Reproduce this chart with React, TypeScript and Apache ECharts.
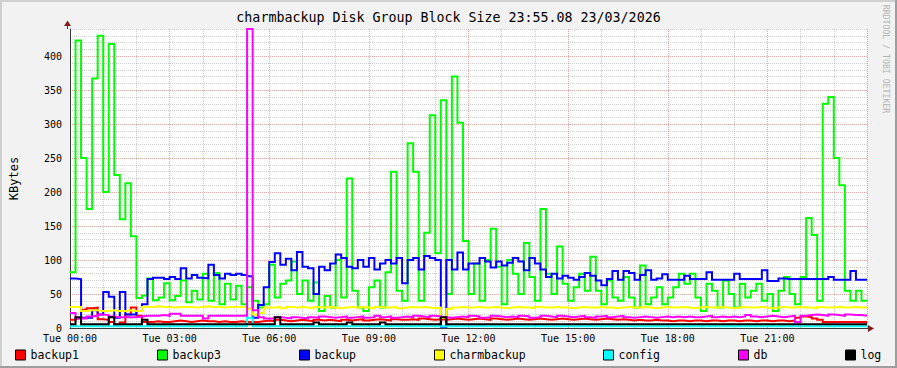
import React, { useEffect, useRef } from 'react';
import * as echarts from 'echarts';

const TITLE = 'charmbackup Disk Group Block Size 23:55.08 23/03/2026';
const Y_TITLE = 'KBytes';
const WATERMARK = 'RRDTOOL / TOBI OETIKER';

const SERIES_NAMES = ['backup1', 'backup3', 'backup', 'charmbackup', 'config', 'db', 'log'];
const SERIES_COLORS = ['#ff0000', '#00ff00', '#0000ff', '#ffff00', '#00ffff', '#ff00ff', '#000000'];
const LEGEND_X = [15, 157, 299, 434, 603, 738, 845];

const X_LABEL_HOURS = [0, 3, 6, 9, 12, 15, 18, 21];
const X_LABELS = ['Tue 00:00', 'Tue 03:00', 'Tue 06:00', 'Tue 09:00', 'Tue 12:00', 'Tue 15:00', 'Tue 18:00', 'Tue 21:00'];
const Y_LABELS = [0, 50, 100, 150, 200, 250, 300, 350, 400];

// one sample every 10 minutes, starting Tue 00:00
const STEP_HOURS = 1 / 6;
const END_HOUR = 24;

const BACKUP1 = [
  12, 14, 27, 29, 30, 13, 12, 9, 5, 8,
  20, 30, 18, 9, 9, 10, 9, 9, 10, 11,
  10, 9, 10, 11, 10, 10, 9, 10, 9, 9,
  10, 9, 9, 9, 10, 11, 10, 12, 11, 10,
  11, 12, 11, 10, 12, 11, 12, 11, 10, 12,
  11, 12, 13, 11, 12, 13, 12, 11, 13, 12,
  12, 13, 12, 14, 13, 12, 13, 12, 13, 14,
  13, 12, 13, 14, 13, 12, 14, 13, 12, 13,
  14, 13, 12, 13, 14, 13, 12, 13, 14, 13,
  12, 13, 14, 13, 12, 13, 14, 13, 12, 13,
  12, 11, 12, 11, 11, 12, 11, 11, 10, 11,
  11, 10, 11, 11, 10, 11, 11, 10, 11, 11,
  10, 11, 11, 10, 11, 11, 10, 11, 11, 10,
  11, 15, 17, 16, 14, 12, 9, 9, 9, 9,
  9, 9, 9, 9,
];

const BACKUP3 = [
  82, 423, 250, 175, 367, 430, 200, 418, 225, 160,
  213, 135, 44, 48, 73, 41, 45, 66, 41, 47,
  70, 38, 55, 42, 80, 40, 81, 35, 65, 42,
  62, 35, 60, 40, 30, 35, 93, 45, 65, 70,
  98, 50, 70, 40, 67, 25, 47, 30, 100, 45,
  220, 55, 30, 25, 60, 70, 30, 82, 230, 55,
  40, 272, 230, 40, 140, 313, 110, 335, 50, 370,
  302, 128, 50, 95, 40, 100, 146, 90, 35, 100,
  80, 50, 125, 75, 40, 175, 80, 50, 120, 65,
  40, 60, 80, 55, 105, 55, 35, 70, 45, 40,
  75, 45, 30, 92, 35, 45, 60, 35, 45, 60,
  80, 65, 80, 45, 25, 65, 55, 30, 70, 50,
  30, 65, 45, 55, 65, 40, 50, 25, 55, 75,
  50, 35, 75, 162, 137, 40, 330, 340, 250, 210,
  55, 40, 55, 40,
];

const BACKUP = [
  73, 72, 15, 15, 26, 20, 53, 46, 15, 53,
  20, 20, 25, 35, 72, 74, 74, 72, 75, 72,
  88, 73, 78, 74, 73, 93, 78, 73, 80, 78,
  80, 78, 76, 15, 34, 60, 97, 110, 93, 102,
  85, 112, 90, 88, 50, 90, 85, 95, 108, 103,
  90, 88, 100, 90, 103, 86, 95, 100, 95, 103,
  66, 100, 103, 86, 106, 103, 100, 2, 100, 86,
  111, 86, 95, 95, 103, 98, 89, 98, 92, 96,
  103, 98, 85, 103, 95, 86, 75, 80, 73, 77,
  74, 71, 75, 81, 77, 70, 63, 72, 84, 71,
  84, 81, 71, 78, 85, 71, 73, 79, 71, 71,
  71, 77, 72, 72, 72, 82, 71, 71, 71, 71,
  80, 72, 72, 72, 72, 85, 69, 69, 73, 72,
  72, 72, 72, 72, 72, 72, 72, 75, 71, 71,
  71, 84, 71, 71,
];

const CHARMBACKUP = [
  31, 31, 25, 26, 26, 25, 25, 26, 25, 25,
  26, 25, 25, 31, 31, 32, 31, 31, 30, 31,
  31, 31, 30, 31, 32, 31, 31, 30, 31, 31,
  31, 31, 28, 20, 22, 30, 30, 31, 29, 31,
  30, 31, 30, 29, 31, 30, 31, 30, 29, 30,
  31, 30, 31, 30, 29, 31, 30, 30, 31, 29,
  30, 31, 30, 31, 30, 29, 30, 15, 28, 30,
  31, 30, 30, 31, 30, 30, 31, 30, 29, 30,
  31, 30, 30, 29, 31, 30, 30, 31, 30, 30,
  29, 30, 31, 30, 30, 31, 30, 30, 29, 30,
  31, 30, 30, 31, 30, 29, 30, 31, 30, 30,
  31, 30, 29, 30, 31, 30, 30, 31, 30, 29,
  30, 31, 30, 30, 31, 30, 29, 30, 31, 30,
  30, 31, 30, 30, 29, 31, 30, 30, 31, 30,
  30, 31, 30, 30,
];

const CONFIG = [
  2.5, 2.5, 2.5, 2.5, 2.5, 2.5, 2.5, 2.5, 2.5, 2.5,
  2.5, 2.5, 2.5, 2.5, 2.5, 2.5, 2.5, 2.5, 2.5, 2.5,
  2.5, 2.5, 2.5, 2.5, 2.5, 2.5, 2.5, 2.5, 2.5, 2.5,
  2.5, 2.5, 15, 2.5, 2.5, 2.5, 2.5, 2.5, 2.5, 2.5,
  2.5, 2.5, 2.5, 2.5, 2.5, 2.5, 2.5, 2.5, 2.5, 2.5,
  2.5, 2.5, 2.5, 2.5, 2.5, 2.5, 2.5, 2.5, 2.5, 2.5,
  2.5, 2.5, 2.5, 2.5, 2.5, 2.5, 2.5, 2.5, 2.5, 2.5,
  2.5, 2.5, 2.5, 2.5, 2.5, 2.5, 2.5, 2.5, 2.5, 2.5,
  2.5, 2.5, 2.5, 2.5, 2.5, 2.5, 2.5, 2.5, 2.5, 2.5,
  2.5, 2.5, 2.5, 2.5, 2.5, 2.5, 2.5, 2.5, 2.5, 2.5,
  2.5, 2.5, 2.5, 2.5, 2.5, 2.5, 2.5, 2.5, 2.5, 2.5,
  2.5, 2.5, 2.5, 2.5, 2.5, 2.5, 2.5, 2.5, 2.5, 2.5,
  2.5, 2.5, 2.5, 2.5, 2.5, 2.5, 2.5, 2.5, 2.5, 2.5,
  2.5, 2.5, 2.5, 2.5, 2.5, 2.5, 2.5, 2.5, 2.5, 2.5,
  2.5, 2.5, 2.5, 2.5,
];

const DB = [
  22, 14, 14, 17, 18, 20, 19, 17, 16, 16,
  16, 16, 17, 18, 18, 18, 19, 18, 21, 21,
  18, 18, 18, 18, 14, 18, 18, 18, 18, 18,
  18, 18, 440, 26, 16, 14, 14, 16, 15, 14,
  16, 15, 14, 16, 15, 17, 16, 15, 16, 17,
  15, 16, 17, 15, 16, 18, 16, 17, 15, 16,
  17, 16, 18, 17, 16, 18, 17, 16, 15, 16,
  17, 16, 18, 17, 15, 16, 18, 17, 16, 17,
  16, 18, 17, 15, 16, 18, 17, 16, 18, 17,
  16, 17, 18, 16, 15, 17, 18, 16, 17, 18,
  16, 15, 16, 17, 16, 15, 16, 17, 16, 17,
  16, 17, 16, 16, 17, 18, 16, 17, 16, 17,
  16, 17, 19, 17, 16, 17, 18, 17, 16, 17,
  18, 9, 18, 19, 20, 19, 18, 20, 19, 18,
  20, 19, 19, 18,
];

const LOG = [
  5.5, 16, 5.5, 5.5, 5.5, 5.5, 5.5, 16, 5.5, 5.5,
  5.5, 5.5, 5.5, 12, 5.5, 5.5, 5.5, 5.5, 5.5, 5.5,
  5.5, 5.5, 5.5, 5.5, 5.5, 5.5, 5.5, 5.5, 5.5, 5.5,
  5.5, 5.5, 5.5, 5.5, 5.5, 5.5, 5.5, 16, 5.5, 5.5,
  5.5, 5.5, 5.5, 5.5, 8, 5.5, 5.5, 5.5, 5.5, 5.5,
  8, 5.5, 5.5, 5.5, 5.5, 5.5, 8, 5.5, 5.5, 5.5,
  5.5, 5.5, 5.5, 5.5, 5.5, 5.5, 5.5, 16, 5.5, 5.5,
  5.5, 5.5, 5.5, 5.5, 5.5, 5.5, 5.5, 5.5, 5.5, 5.5,
  5.5, 5.5, 5.5, 5.5, 5.5, 5.5, 5.5, 5.5, 5.5, 5.5,
  5.5, 5.5, 5.5, 5.5, 5.5, 5.5, 5.5, 5.5, 5.5, 5.5,
  5.5, 5.5, 5.5, 5.5, 5.5, 5.5, 5.5, 5.5, 5.5, 5.5,
  5.5, 5.5, 5.5, 5.5, 5.5, 5.5, 5.5, 5.5, 5.5, 5.5,
  5.5, 5.5, 5.5, 5.5, 5.5, 5.5, 5.5, 5.5, 5.5, 5.5,
  5.5, 5.5, 5.5, 5.5, 5.5, 5.5, 5.5, 5.5, 5.5, 5.5,
  5.5, 5.5, 5.5, 5.5,
];

const SERIES_VALUES = [BACKUP1, BACKUP3, BACKUP, CHARMBACKUP, CONFIG, DB, LOG];

const MONO = '"DejaVu Sans Mono", "Liberation Mono", monospace';
const MGRID = 'rgba(222,80,80,0.5)';
const GRID = 'rgba(150,150,150,0.45)';
const ARROW = '#801f1f';
const AXIS = '#3a3a3a';

function toPoints(values: number[]) {
  const pts: number[][] = values.map((v, i) => [i * STEP_HOURS, v]);
  pts.push([END_HOUR, values[values.length - 1]]);
  return pts;
}

export default function App() {
  const ref = useRef<HTMLDivElement>(null);
  useEffect(() => {
    document.body.style.margin = '0';
    const chart = echarts.init(ref.current!, undefined, { renderer: 'svg' });
    const option: any = {
      animation: false,
      backgroundColor: '#f2f2f2',
      title: {
        text: TITLE,
        left: 'center',
        top: 11,
        padding: 0,
        textStyle: { fontFamily: MONO, fontSize: 13.3, fontWeight: 'normal', color: '#000' },
      },
      grid: {
        left: 67, right: 30, top: 29, bottom: 40,
        show: true, backgroundColor: '#ffffff', borderWidth: 0,
      },
      legend: SERIES_NAMES.map((n, i) => ({
        data: [n],
        left: LEGEND_X[i],
        top: 349,
        padding: 0,
        itemWidth: 10,
        itemHeight: 10,
        itemGap: 0,
        icon: 'rect',
        selectedMode: false,
        itemStyle: { borderColor: '#000', borderWidth: 1 },
        textStyle: { fontFamily: MONO, fontSize: 11.5, color: '#000', lineHeight: 10, padding: [0, 0, 0, 0] },
      })),
      xAxis: {
        type: 'value',
        min: 0,
        max: END_HOUR,
        interval: 1,
        axisLine: { show: true, lineStyle: { color: AXIS, width: 1 } },
        axisTick: { show: false },
        axisLabel: {
          showMinLabel: true,
          showMaxLabel: true,
          margin: 5,
          fontFamily: MONO,
          fontSize: 10,
          color: '#000',
          formatter: (v: number) => {
            const k = X_LABEL_HOURS.indexOf(v);
            return k >= 0 ? X_LABELS[k] : '';
          },
        },
        splitLine: { show: true, lineStyle: { color: [MGRID, GRID, GRID], type: [1, 1], width: 1 } },
      },
      yAxis: {
        type: 'value',
        min: 0,
        max: 440,
        interval: 10,
        name: Y_TITLE,
        nameLocation: 'middle',
        nameRotate: 90,
        nameGap: 50,
        nameTextStyle: { fontFamily: MONO, fontSize: 12, color: '#000' },
        axisLine: { show: true, lineStyle: { color: AXIS, width: 1 } },
        axisTick: { show: false },
        axisLabel: {
          margin: 8,
          fontFamily: MONO,
          fontSize: 10,
          color: '#000',
          formatter: (v: number) => (Y_LABELS.indexOf(v) >= 0 ? String(v) : ''),
        },
        splitLine: { show: true, lineStyle: { color: [MGRID, GRID, GRID, GRID, GRID], type: [1, 1], width: 1 } },
      },
      series: SERIES_NAMES.map((name, k) => ({
        name,
        type: 'line',
        step: 'end',
        symbol: 'none',
        silent: true,
        emphasis: { disabled: true },
        data: toPoints(SERIES_VALUES[k]),
        lineStyle: { width: 2, color: SERIES_COLORS[k], join: 'miter' },
        itemStyle: { color: SERIES_COLORS[k] },
      })),
      graphic: [
        { type: 'rect', shape: { x: 0, y: 0, width: 897, height: 2 }, style: { fill: '#cfcfcf' }, silent: true },
        { type: 'rect', shape: { x: 0, y: 0, width: 2, height: 368 }, style: { fill: '#cfcfcf' }, silent: true },
        { type: 'rect', shape: { x: 0, y: 366, width: 897, height: 2 }, style: { fill: '#9e9e9e' }, silent: true },
        { type: 'rect', shape: { x: 895, y: 0, width: 2, height: 368 }, style: { fill: '#9e9e9e' }, silent: true },
        { type: 'line', shape: { x1: 867, y1: 328.5, x2: 870, y2: 328.5 }, style: { stroke: AXIS, lineWidth: 1 }, silent: true },
        { type: 'line', shape: { x1: 67.5, y1: 29, x2: 67.5, y2: 25 }, style: { stroke: AXIS, lineWidth: 1 }, silent: true },
        { type: 'polygon', shape: { points: [[868, 325], [874, 328.5], [868, 332]] }, style: { fill: ARROW }, silent: true },
        { type: 'polygon', shape: { points: [[64, 26], [67.5, 20.5], [71, 26]] }, style: { fill: ARROW }, silent: true },
        {
          type: 'text',
          x: 886,
          y: 59,
          rotation: -Math.PI / 2,
          silent: true,
          style: { text: WATERMARK, fill: '#b4b4b4', font: '8.2px ' + MONO, align: 'center', verticalAlign: 'middle' },
        },
      ],
    };
    chart.setOption(option);
    return () => chart.dispose();
  }, []);
  return <div ref={ref} style={{ width: 897, height: 368 }} />;
}
